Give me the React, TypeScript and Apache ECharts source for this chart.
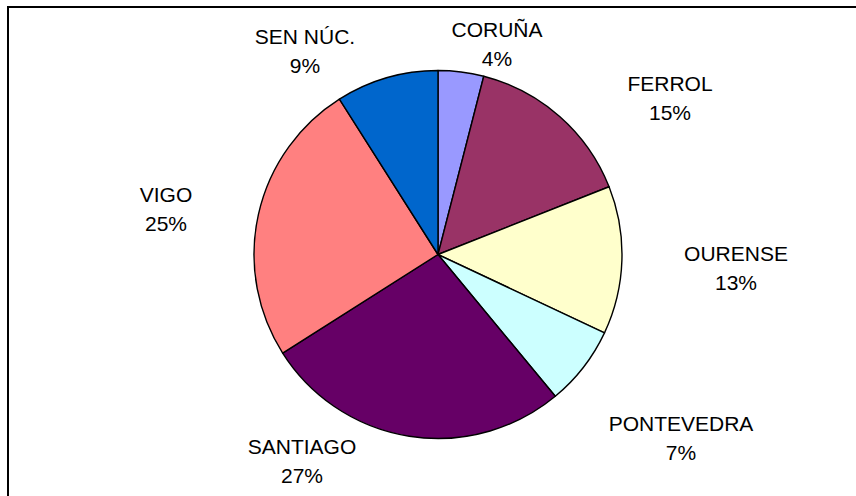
import React, { useEffect, useRef } from "react";
import * as echarts from "echarts";

const categories = ["CORUÑA", "FERROL", "OURENSE", "PONTEVEDRA", "SANTIAGO", "VIGO", "SEN NÚC."];
const values = [4, 15, 13, 7, 27, 25, 9];
const colors = ["#9999FF", "#993366", "#FFFFCC", "#CCFFFF", "#660066", "#FF8080", "#0066CC"];

// label block centres (layout only)
const labelPos: [number, number][] = [
  [497, 44],
  [670, 98],
  [736, 268],
  [681, 438],
  [302, 461],
  [166, 209],
  [305, 51],
];

export default function App() {
  const ref = useRef<HTMLDivElement>(null);
  useEffect(() => {
    if (!ref.current) return;
    const chart = echarts.init(ref.current, null, { renderer: "svg" });
    chart.setOption({
      animation: false,
      backgroundColor: "#ffffff",
      graphic: [
        {
          type: "rect",
          shape: { x: 8, y: 7, width: 900, height: 600 },
          style: { fill: "none", stroke: "#000", lineWidth: 2 },
          silent: true,
        },
      ],
      series: [
        {
          type: "pie",
          center: [438, 254.5],
          radius: [0, 184],
          startAngle: 90,
          clockwise: true,
          avoidLabelOverlap: false,
          itemStyle: { borderColor: "#000", borderWidth: 1.4 },
          label: {
            show: true,
            position: "outside",
            formatter: (p: any) => `${p.name}\n${Math.round(p.percent)}%`,
            fontFamily: "Liberation Sans, Arial, sans-serif",
            fontSize: 21,
            lineHeight: 29,
            color: "#000",
            align: "center",
          },
          labelLine: { show: false },
          labelLayout: (params: any) => {
            const pos = labelPos[params.dataIndex];
            return { x: pos[0], y: pos[1], align: "center", verticalAlign: "middle" };
          },
          emphasis: { disabled: true },
          data: categories.map((name, i) => ({
            name,
            value: values[i],
            itemStyle: { color: colors[i] },
          })),
        },
      ],
    });
    return () => chart.dispose();
  }, []);
  return (
    <div
      ref={ref}
      style={{ position: "absolute", left: 0, top: 0, width: 856, height: 496, background: "#fff" }}
    />
  );
}
